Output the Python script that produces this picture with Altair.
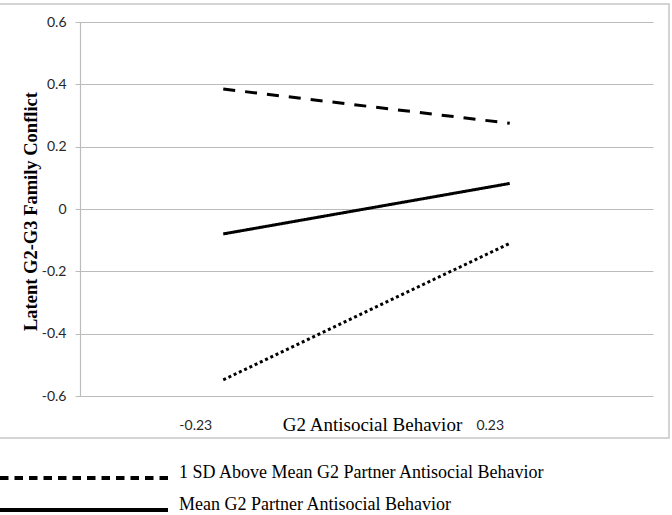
import altair as alt
import pandas as pd

# Category positions on the x axis (G2 antisocial behavior, +/- 1 SD)
x_labels = ["-0.23", "0.23"]

# Moderator levels (G2 partner antisocial behavior)
series_names = [
    "1 SD Above Mean G2 Partner Antisocial Behavior",
    "Mean G2 Partner Antisocial Behavior",
    "1 SD Below Mean G2 Partner Antisocial Behavior",
]

# Predicted latent G2-G3 family conflict at each x position
above_values = [0.385, 0.275]
mean_values = [-0.08, 0.082]
below_values = [-0.548, -0.11]

y_ticks = [-0.6, -0.4, -0.2, 0, 0.2, 0.4, 0.6]

rows = []
for name, vals in zip(series_names, [above_values, mean_values, below_values]):
    for xl, v in zip(x_labels, vals):
        rows.append({"moderator": name, "g2": xl, "conflict": v})
df = pd.DataFrame(rows)

GRID = "#bcbcbc"
SERIF = "Liberation Serif"
SANS = "Lato"

x_enc = alt.X(
    "g2:N",
    sort=x_labels,
    scale=alt.Scale(domain=x_labels),
    axis=alt.Axis(
        title="G2 Antisocial Behavior",
        titleFont=SERIF,
        titleFontSize=19,
        titleFontWeight="normal",
        titleColor="black",
        titleX=292,
        titleY=34,
        titleBaseline="alphabetic",
        titleAlign="center",
        labelFont=SANS,
        labelFontSize=14,
        labelColor="#262626",
        labelAngle=0,
        labelBaseline="alphabetic",
        labelPadding=33,
        labelOffset={"condition": {"test": "datum.value === '-0.23'", "value": -28}, "value": -20},
        ticks=False,
        domain=False,
        grid=False,
    ),
)

y_enc = alt.Y(
    "conflict:Q",
    scale=alt.Scale(domain=[-0.6, 0.6], nice=False, zero=False),
    axis=alt.Axis(
        values=y_ticks,
        labelExpr="'' + datum.value",
        title="Latent G2-G3 Family Conflict",
        titleFont=SERIF,
        titleFontSize=18.5,
        titleFontWeight="bold",
        titleColor="black",
        titleX=-50,
        titleY=189,
        titleBaseline="middle",
        titleAlign="center",
        labelFont=SANS,
        labelFontSize=14,
        labelColor="#262626",
        labelPadding=9,
        tickSize=5,
        tickColor=GRID,
        domainColor=GRID,
        gridColor=GRID,
        gridWidth=1.2,
        domainWidth=1.2,
    ),
)

# The three simple-slope lines
lines = alt.Chart(df).mark_line(color="black", strokeWidth=3).encode(
    x=x_enc,
    y=y_enc,
    strokeDash=alt.StrokeDash(
        "moderator:N",
        sort=series_names,
        scale=alt.Scale(domain=series_names, range=[[12, 10], [1, 0], [3, 2.8]]),
        legend=None,
    ),
    detail="moderator:N",
)

# Legend keys below the chart, drawn with shorter dashes than the plot lines
keys = alt.Chart(df).mark_point(opacity=0, filled=False, color="black").encode(
    x=alt.X("g2:N", sort=x_labels),
    y=alt.Y("conflict:Q"),
    strokeDash=alt.StrokeDash(
        "moderator:N",
        sort=series_names,
        scale=alt.Scale(domain=series_names, range=[[8.5, 6], [1, 0], [3, 2.8]]),
        legend=alt.Legend(
            title=None,
            orient="none",
            legendX=-82,
            legendY=446,
            padding=0,
            symbolType="stroke",
            symbolSize=168 * 168,
            symbolStrokeWidth=4,
            symbolStrokeColor="black",
            symbolOpacity=1,
            labelFont=SERIF,
            labelFontSize=18,
            labelColor="black",
            labelBaseline="alphabetic",
            labelOffset=9,
            labelLimit=700,
            clipHeight=20,
            rowPadding=8,
        ),
    ),
)

# Outer chart-area frame
frame = alt.Chart(alt.Data(values=[{}])).mark_rect(
    fill=None, stroke="#c6c6c6", strokeWidth=1.5
).encode(
    x=alt.value(-82),
    x2=alt.value(589),
    y=alt.value(-18),
    y2=alt.value(416),
)

chart = alt.layer(frame, lines, keys).resolve_scale(
    strokeDash="independent"
).properties(
    width=573,
    height=374,
    padding={"left": 80, "top": 22, "right": 19, "bottom": 119},
    autosize=alt.AutoSizeParams(type="none"),
    background="white",
).configure_view(stroke=None)

chart.save("out.html", embed_options={"renderer": "svg", "actions": False})
